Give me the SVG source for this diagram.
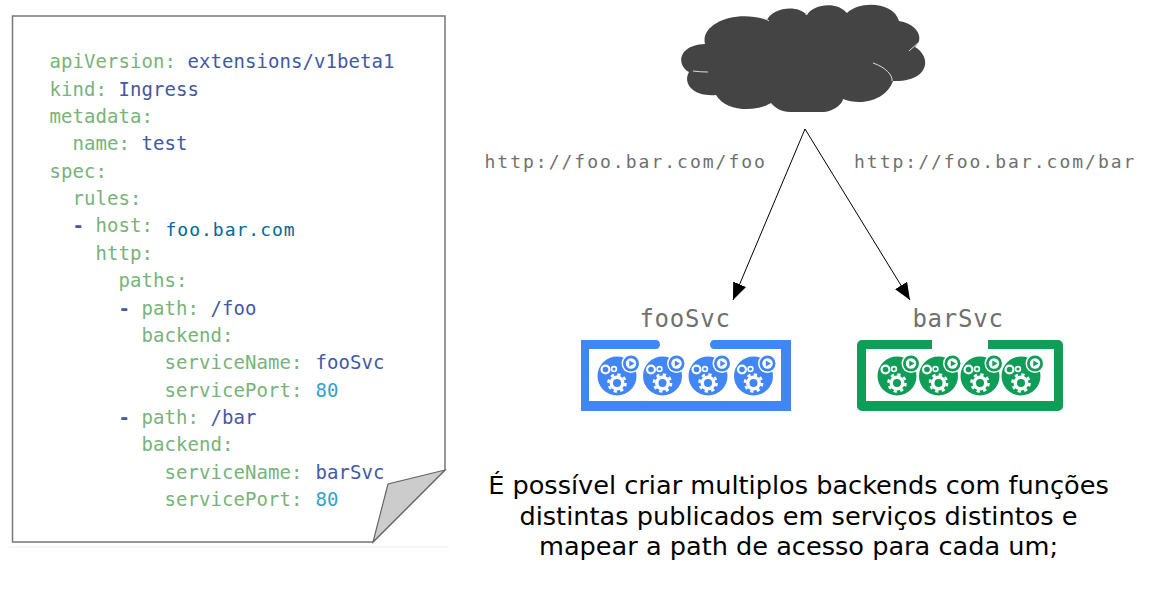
<svg xmlns="http://www.w3.org/2000/svg" width="1168" height="595" viewBox="0 0 1168 595">
<style>
.c{font-family:"DejaVu Sans Mono","Liberation Mono",monospace;font-size:19px;letter-spacing:.06px;fill:#78b37a;white-space:pre}
.v{fill:#4259a6}.n{fill:#35a2ca}
.h{fill:#00699b;font-size:18px;letter-spacing:1px}
.u{font-family:"DejaVu Sans Mono",monospace;font-size:18px;letter-spacing:2px;fill:#707070}
.s{font-family:"DejaVu Sans Mono",monospace;font-size:24px;fill:#707070;text-anchor:middle;letter-spacing:.75px}
.d{font-family:"DejaVu Sans",sans-serif;font-size:25.6px;fill:#000;text-anchor:middle}
.w{fill:#fff}
.e{stroke:#000;stroke-width:1;fill:none;marker-end:url(#a)}
</style>
<defs>
<marker id="a" markerUnits="userSpaceOnUse" markerWidth="18" markerHeight="16" refX="17" refY="8" orient="auto"><path d="M0,1L17,8L0,15Z" fill="#000"/></marker>
<g id="pod">
<circle r="19.500"/>
<circle cx="14" cy="-12.500" r="9.500" class="w"/>
<circle cx="14" cy="-12.500" r="8"/>
<circle cx="14" cy="-12.500" r="5.200" class="w"/>
<path d="M12.300,-15.500L17.500,-12.500L12.300,-9.500Z"/>
<circle cx="-11.500" cy="-6.500" r="5" class="w"/><circle cx="-11.500" cy="-6.500" r="2.800"/>
<circle cx="-3" cy="-7" r="3.200" class="w"/><circle cx="-3" cy="-7" r="1.600"/>
<circle cy="7" r="7.500" class="w"/>
<circle cy="7" r="8.500" fill="none" stroke="#fff" stroke-width="2.600" stroke-dasharray="3.300 3.380"/>
<circle cy="7" r="4"/>
</g>
</defs>
<g id="page">
<path d="M9,547H449" stroke="#eee" fill="none"/>
<path d="M12.500,16H445V470L373,542H12.500Z" fill="#fff" stroke="#777" stroke-width="1.500"/>
<path d="M445,470L388,484L373,542Z" fill="#ccc" stroke="#666" stroke-width="1.200"/>
<text class="c" x="49.500" y="68">apiVersion: <tspan class="v">extensions/v1beta1</tspan></text>
<text class="c" x="49.500" y="95.500">kind: <tspan class="v">Ingress</tspan></text>
<text class="c" x="49.500" y="123">metadata:</text>
<text class="c" x="72.500" y="150">name: <tspan class="v">test</tspan></text>
<text class="c" x="49.500" y="178">spec:</text>
<text class="c" x="72.500" y="205">rules:</text>
<text class="c" x="72.500" y="232"><tspan class="v" font-weight="700">-</tspan> host:</text>
<text class="c h" x="165.500" y="236">foo.bar.com</text>
<text class="c" x="95.500" y="260">http:</text>
<text class="c" x="118.500" y="287">paths:</text>
<text class="c" x="118.500" y="315"><tspan class="v" font-weight="700">-</tspan> path: <tspan class="v">/foo</tspan></text>
<text class="c" x="141.500" y="342">backend:</text>
<text class="c" x="164.500" y="369">serviceName: <tspan class="v" dx="1.500">fooSvc</tspan></text>
<text class="c" x="164.500" y="397">servicePort: <tspan class="n" dx="1.500">80</tspan></text>
<text class="c" x="118.500" y="424"><tspan class="v" font-weight="700">-</tspan> path: <tspan class="v">/bar</tspan></text>
<text class="c" x="141.500" y="451">backend:</text>
<text class="c" x="164.500" y="479">serviceName: <tspan class="v" dx="1.500">barSvc</tspan></text>
<text class="c" x="164.500" y="506">servicePort: <tspan class="n" dx="1.500">80</tspan></text>
</g>
<g id="cloud">
<path d="M705,44C700,24 735,9 767,20C771,9 796,3 807,15C812,5 836,0 847,13C860,0 894,2 899,21C917,24 925,38 915,47C933,58 928,82 893,81C886,101 860,106 843,99C842,106 830,112 823,112L790,112C782,112 775,108 771,103C755,113 725,111 716,95C695,97 682,85 689,72C676,65 678,45 705,44Z" fill="#444"/>
<path d="M693,71Q700,72 708,72M873,63C885,67 893,75 892,81M909,51L918,43M763,17L769,21M806,15L807,11" stroke="#ddd" fill="none"/>
</g>
<g id="connectors">
<path class="e" d="M805,129L733,300"/>
<path class="e" d="M805,129L910,300"/>
</g>
<text class="u" x="484.500" y="168">http://foo.bar.com/foo</text>
<text class="u" x="854" y="168">http://foo.bar.com/bar</text>
<g id="fooSvc">
<text class="s" x="685" y="327">fooSvc</text>
<path fill="#4285f4" d="M581,340H656a4,4.500 0 0 1 0,9H589V401H781V349H714a4,4.500 0 0 1 0,-9H791V411H581Z"/>
<g fill="#4285f4"><use href="#pod" x="617" y="376"/><use href="#pod" x="662.500" y="376"/><use href="#pod" x="708" y="376"/><use href="#pod" x="753.500" y="376"/></g>
</g>
<g id="barSvc">
<text class="s" x="958" y="327">barSvc</text>
<path fill="#0f9d58" d="M932,340V349H866V401H1054V349H988V340H1058a5,5 0 0 1 5,5V406a5,5 0 0 1 -5,5H862a5,5 0 0 1 -5,-5V345a5,5 0 0 1 5,-5Z"/>
<g fill="#0f9d58"><use href="#pod" x="897" y="376"/><use href="#pod" x="938.500" y="376"/><use href="#pod" x="980" y="376"/><use href="#pod" x="1021" y="376"/></g>
</g>
<text class="d" x="798.500" y="494">É possível criar multiplos backends com funções</text>
<text class="d" x="798.500" y="525">distintas publicados em serviços distintos e</text>
<text class="d" x="798.500" y="555">mapear a path de acesso para cada um;</text>
</svg>
